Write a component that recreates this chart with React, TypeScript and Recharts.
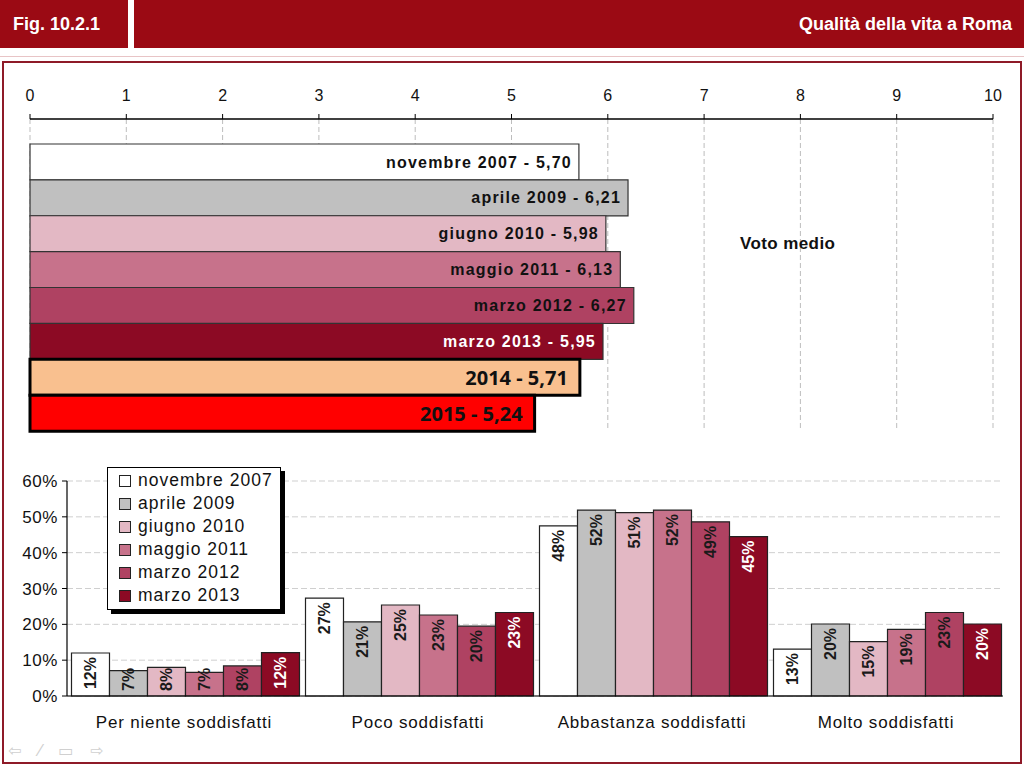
import React from 'react';
import { BarChart, Bar, XAxis, YAxis, CartesianGrid, Cell, LabelList } from 'recharts';

// periodi delle rilevazioni e colori
const periods = ['novembre 2007', 'aprile 2009', 'giugno 2010', 'maggio 2011', 'marzo 2012', 'marzo 2013'];
const periodColors = ['#FFFFFF', '#C0C0C0', '#E3B8C4', '#C7728B', '#AF4262', '#8C0A24'];

// voto medio (0-10)
const voteLabels = ['novembre 2007', 'aprile 2009', 'giugno 2010', 'maggio 2011', 'marzo 2012', 'marzo 2013', '2014', '2015'];
const voteValues = [5.70, 6.21, 5.98, 6.13, 6.27, 5.95, 5.71, 5.24];
const voteColors = [...periodColors, '#F9C08F', '#FF0000'];
const voteTicks = [0, 1, 2, 3, 4, 5, 6, 7, 8, 9, 10];

// soddisfazione (%)
const categories = ['Per niente soddisfatti', 'Poco soddisfatti', 'Abbastanza soddisfatti', 'Molto soddisfatti'];
const nov2007 = [12.0, 27.3, 47.5, 13.1];
const apr2009 = [7.1, 20.7, 51.9, 20.1];
const giu2010 = [8.0, 25.4, 51.2, 15.2];
const mag2011 = [6.6, 22.6, 51.9, 18.6];
const mar2012 = [8.4, 19.5, 48.6, 23.3];
const mar2013 = [12.1, 23.3, 44.5, 20.1];
const pctTicks = [0, 10, 20, 30, 40, 50, 60];

const seriesValues = [nov2007, apr2009, giu2010, mag2011, mar2012, mar2013];

const voteData = voteLabels.map((name, i) => ({ name, value: voteValues[i] }));
const pctData = categories.map((name, i) => {
  const row: Record<string, any> = { name };
  seriesValues.forEach((s, k) => { row['s' + k] = s[i]; });
  return row;
});

const RED = '#9B0A14';
const FONT = '"Liberation Sans", Arial, sans-serif';

const fmtComma = (v: number) => v.toFixed(2).replace('.', ',');

const VoteLabel = (props: any) => {
  const { x, y, width, height, index } = props;
  const big = index >= 6;
  return (
    <text
      x={x + width - (big ? 12 : 7)}
      y={y + height / 2}
      textAnchor="end"
      dominantBaseline="central"
      fill={index === 5 ? '#fff' : '#111'}
      fontFamily={big ? '"Noto Sans", sans-serif' : FONT}
      fontWeight="bold"
      fontSize={big ? 20 : 16}
      letterSpacing={big ? 0 : 1.2}
    >
      {`${voteLabels[index]} - ${fmtComma(voteValues[index])}`}
    </text>
  );
};

const makePctLabel = (color: string) => (props: any) => {
  const { x, y, width, height, value } = props;
  const cx = x + width / 2;
  const fits = height > 36;
  const ty = fits ? y + 4 : y + height - 5;
  return (
    <text
      x={cx}
      y={ty}
      transform={`rotate(-90 ${cx} ${ty})`}
      textAnchor={fits ? 'end' : 'start'}
      dominantBaseline="central"
      fill={color}
      fontFamily={FONT}
      fontWeight="bold"
      fontSize={16}
    >
      {`${Math.round(value)}%`}
    </text>
  );
};

export default function App() {
  return (
    <div style={{ position: 'absolute', left: 0, top: 0, width: 1024, height: 766, background: '#fff', fontFamily: FONT, overflow: 'hidden' }}>
      {/* intestazione */}
      <div style={{ position: 'absolute', left: 0, top: 0, width: 128, height: 48, background: RED, color: '#fff', fontWeight: 'bold', fontSize: 18, lineHeight: '48px', paddingLeft: 13, boxSizing: 'border-box' }}>
        Fig. 10.2.1
      </div>
      <div style={{ position: 'absolute', left: 134, top: 0, width: 890, height: 48, background: RED, color: '#fff', fontWeight: 'bold', fontSize: 18, lineHeight: '48px', textAlign: 'right', paddingRight: 12, boxSizing: 'border-box' }}>
        Qualità della vita a Roma
      </div>
      <div style={{ position: 'absolute', left: 0, top: 56, width: 1024, height: 1, background: '#E8C4C6' }} />
      <div style={{ position: 'absolute', left: 2, top: 61, width: 1020, height: 703, border: '2px solid #8E1A28', boxSizing: 'border-box' }} />

      {/* voto medio */}
      <div style={{ position: 'absolute', left: 0, top: 60 }}>
        <BarChart
          width={1024}
          height={380}
          data={voteData}
          layout="vertical"
          margin={{ top: 19, right: 31, bottom: 9, left: 30 }}
          barCategoryGap={0}
        >
          <CartesianGrid horizontal={false} stroke="#BDBDBD" strokeDasharray="5 3" />
          <XAxis
            type="number"
            orientation="top"
            domain={[0, 10]}
            ticks={voteTicks}
            height={40}
            tickSize={5}
            tickMargin={13}
            axisLine={{ stroke: '#000', strokeWidth: 1.5 }}
            tickLine={{ stroke: '#000' }}
            tick={{ fontSize: 16, fill: '#111', fontFamily: FONT }}
          />
          <YAxis
            type="category"
            dataKey="name"
            width={0}
            tick={false}
            tickLine={false}
            axisLine={{ stroke: '#000' }}
            padding={{ top: 25, bottom: 0 }}
          />
          <Bar dataKey="value" stroke="#222" strokeWidth={1.2} isAnimationActive={false}>
            {voteData.map((d, i) => (
              <Cell key={d.name} fill={voteColors[i]} stroke={i >= 6 ? '#000' : '#333'} strokeWidth={i >= 6 ? 3 : 1.2} />
            ))}
            <LabelList dataKey="name" content={VoteLabel} />
          </Bar>
        </BarChart>
      </div>
      <div style={{ position: 'absolute', left: 740, top: 234, fontWeight: 'bold', fontSize: 17, letterSpacing: 0.4, color: '#111' }}>
        Voto medio
      </div>

      {/* livello di soddisfazione */}
      <div style={{ position: 'absolute', left: 0, top: 460 }}>
        <BarChart
          width={1024}
          height={280}
          data={pctData}
          margin={{ top: 21, right: 21, bottom: 0, left: 10 }}
          barCategoryGap={4.5}
          barGap={0}
        >
          <CartesianGrid vertical={false} xAxisId="cat" stroke="#CFCFCF" strokeDasharray="6 3" />
          <XAxis
            xAxisId="edge"
            type="number"
            domain={[0, 4]}
            ticks={[0, 1, 2, 3, 4]}
            height={0}
            tick={false}
            axisLine={false}
            tickLine={{ stroke: '#000' }}
            tickSize={6}
          />
          <XAxis
            xAxisId="cat"
            dataKey="name"
            height={44}
            tickLine={false}
            tickMargin={14}
            axisLine={{ stroke: '#000', strokeWidth: 1.2 }}
            tick={{ fontSize: 17, fill: '#111', fontFamily: FONT, letterSpacing: 0.8 }}
            interval={0}
          />
          <YAxis
            domain={[0, 60]}
            ticks={pctTicks}
            width={57}
            tickSize={5}
            tickMargin={4}
            tickFormatter={(v: number) => `${v}%`}
            axisLine={{ stroke: '#000', strokeWidth: 1.2 }}
            tickLine={{ stroke: '#000' }}
            tick={{ fontSize: 17, fill: '#111', fontFamily: FONT, letterSpacing: 0.6 }}
          />
          {periods.map((p, k) => (
            <Bar
              key={p}
              xAxisId="cat"
              dataKey={'s' + k}
              name={p}
              fill={periodColors[k]}
              stroke="#222"
              strokeWidth={1.2}
              isAnimationActive={false}
            >
              <LabelList dataKey={'s' + k} content={makePctLabel(k === 5 ? '#fff' : '#1a1a1a')} />
            </Bar>
          ))}
        </BarChart>
      </div>

      {/* legenda */}
      <div style={{ position: 'absolute', left: 111, top: 471, width: 174, height: 143, background: '#000' }} />
      <div style={{ position: 'absolute', left: 107, top: 467, width: 174, height: 143, background: '#fff', border: '1.5px solid #000', boxSizing: 'border-box', paddingTop: 1 }}>
        {periods.map((p, k) => (
          <div key={p} style={{ display: 'flex', alignItems: 'center', height: 23, paddingLeft: 11 }}>
            <span style={{ width: 12, height: 12, background: periodColors[k], border: '1px solid #222', boxSizing: 'border-box', marginRight: 7, flexShrink: 0 }} />
            <span style={{ fontSize: 17.5, letterSpacing: 1, color: '#111', whiteSpace: 'nowrap' }}>{p}</span>
          </div>
        ))}
      </div>

      {/* icone di navigazione */}
      <div style={{ position: 'absolute', left: 8, top: 741, fontSize: 16, color: '#D0D0D0', letterSpacing: 6, fontFamily: '"DejaVu Sans", sans-serif' }}>
        ⇦ ⁄ ▭ ⇨
      </div>
    </div>
  );
}
